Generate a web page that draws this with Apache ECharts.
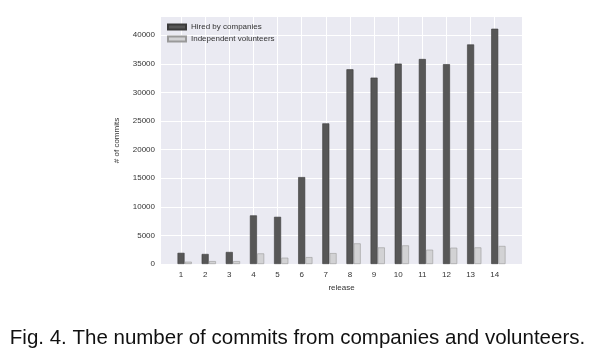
<!DOCTYPE html>
<html><head><meta charset="utf-8">
<script src="https://cdn.jsdelivr.net/npm/echarts@6/dist/echarts.min.js"></script>
<style>html,body{margin:0;padding:0;background:#fff}#c{width:595px;height:359px}</style>
</head><body><div id="c"></div>
<script>
const releases = [1,2,3,4,5,6,7,8,9,10,11,12,13,14];
const hired = [1950,1750,2100,8500,8250,15200,24600,34050,32600,35050,35850,34950,38400,41150];
const volunteers = [400,500,500,1850,1100,1200,1900,3600,2900,3250,2500,2850,2900,3150];
const yTicks = [0,5000,10000,15000,20000,25000,30000,35000,40000];
const barOffset = 0.3;

const chart = echarts.init(document.getElementById('c'));
const font = 'Liberation Sans, Arial, sans-serif';
chart.setOption({
  animation: false,
  backgroundColor: '#fff',
  grid: {left: 161, right: 73, top: 17, bottom: 95, show: true, backgroundColor: '#eaeaf2', borderWidth: 0},
  legend: {
    left: 162, top: 18, orient: 'vertical', itemWidth: 18, itemHeight: 5, itemGap: 4, icon: 'rect',
    textStyle: {fontFamily: font, fontSize: 8, color: '#333'},
    data: ['Hired by companies', 'Independent volunteers']
  },
  xAxis: {
    type: 'value', min: 0.17, max: 15.13,
    name: 'release', nameLocation: 'middle', nameGap: 17,
    nameTextStyle: {fontFamily: font, fontSize: 8, color: '#333'},
    axisLine: {show: false}, axisTick: {show: false, customValues: releases},
    axisLabel: {customValues: releases, fontFamily: font, fontSize: 8, color: '#333', margin: 7},
    splitLine: {show: true, lineStyle: {color: '#fff', width: 1}}
  },
  yAxis: {
    type: 'value', min: 0, max: 43200, interval: 5000,
    name: '# of commits', nameLocation: 'middle', nameGap: 40,
    nameTextStyle: {fontFamily: font, fontSize: 8, color: '#333'},
    axisLine: {show: false}, axisTick: {show: false, customValues: yTicks},
    axisLabel: {customValues: yTicks, formatter: v => String(v), fontFamily: font, fontSize: 8, color: '#333', margin: 6},
    splitLine: {show: true, lineStyle: {color: '#fff', width: 1}}
  },
  series: [
    {name: 'Hired by companies', type: 'bar', barWidth: 7, barGap: '-100%',
     itemStyle: {color: '#575757', borderColor: '#3a3a3a', borderWidth: 0.6},
     data: releases.map((r, i) => [r, hired[i]])},
    {name: 'Independent volunteers', type: 'bar', barWidth: 7, barGap: '-100%',
     itemStyle: {color: '#d2d2d4', borderColor: '#9a9a9a', borderWidth: 0.6},
     data: releases.map((r, i) => [r + barOffset, volunteers[i]])}
  ],
  graphic: [{
    type: 'text', left: 'center', top: 328,
    style: {text: 'Fig. 4. The number of commits from companies and volunteers.', font: '20.5px ' + font, fill: '#111'}
  }]
});
</script></body></html>
